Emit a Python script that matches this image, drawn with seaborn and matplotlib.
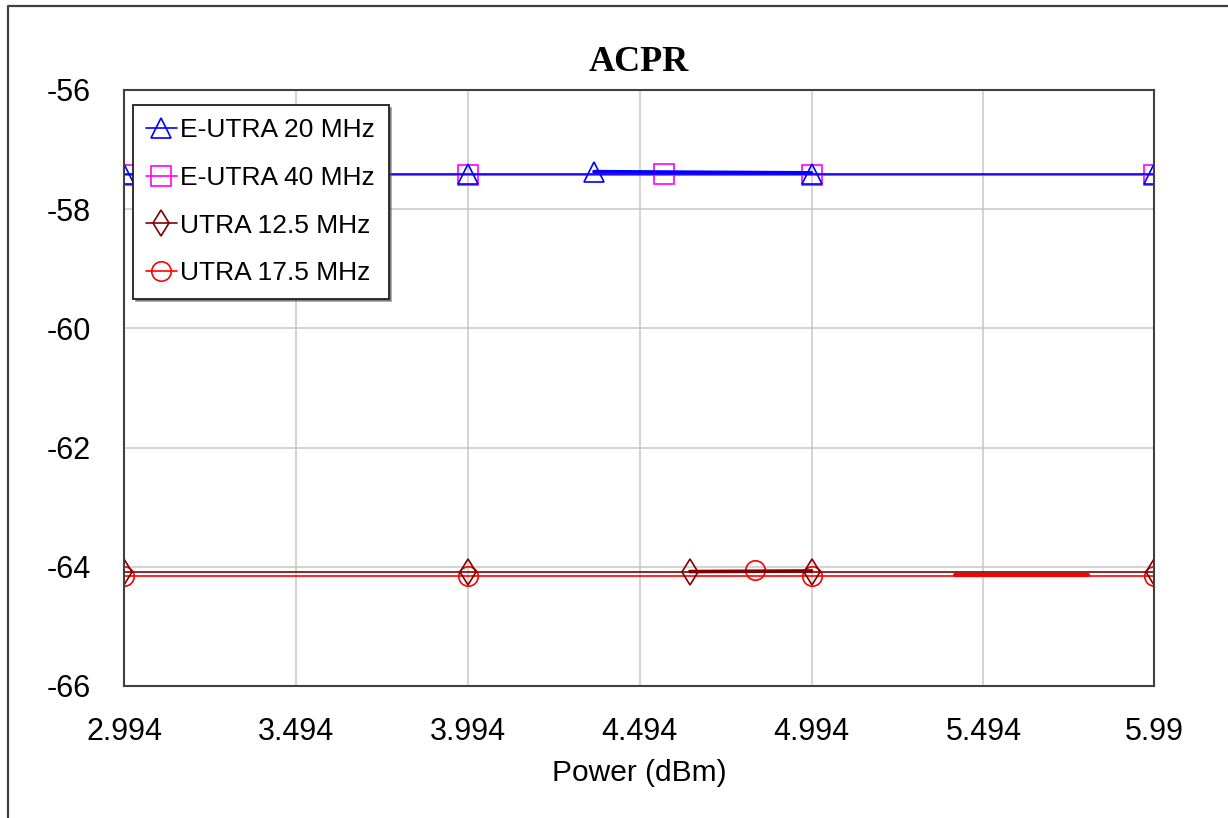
import matplotlib
matplotlib.use("Agg")
import matplotlib.pyplot as plt
import seaborn as sns
import pandas as pd
from matplotlib.lines import Line2D

# tick positions
x_ticks = [2.994, 3.494, 3.994, 4.494, 4.994, 5.494, 5.99]
y_ticks = [-66, -64, -62, -60, -58, -56]

series_names = ["E-UTRA 20 MHz", "E-UTRA 40 MHz", "UTRA 12.5 MHz", "UTRA 17.5 MHz"]

# main sweep traces
eutra20_x = [2.994, 3.994, 4.994, 5.99]
eutra20_y = [-57.41, -57.41, -57.41, -57.41]
eutra40_x = [2.994, 3.994, 4.994, 5.99]
eutra40_y = [-57.42, -57.42, -57.42, -57.42]
utra12_x = [2.994, 3.994, 4.994, 5.99]
utra12_y = [-64.09, -64.09, -64.09, -64.09]
utra17_x = [2.994, 3.994, 4.994, 5.99]
utra17_y = [-64.15, -64.15, -64.15, -64.15]

# short overlapping traces (the thicker bits)
eutra20_seg_x = [4.361, 4.994]
eutra20_seg_y = [-57.37, -57.39]
eutra40_seg_x = [4.565]
eutra40_seg_y = [-57.41]
utra12_seg_x = [4.640, 4.994]
utra12_seg_y = [-64.08, -64.07]
utra17_seg_x = [4.829]
utra17_seg_y = [-64.06]
utra17_seg2_x = [5.411, 5.798]
utra17_seg2_y = [-64.14, -64.14]

colors = ["#0000ff", "#ff00ff", "#800000", "#ff0000"]
markers = ["^", "s", "d", "o"]
msizes = [14, 15, 13, 14]

sns.set_style("white")
plt.rcParams["font.family"] = ["Liberation Sans", "DejaVu Sans"]
plt.rcParams["text.color"] = "black"
plt.rcParams["xtick.color"] = "black"
plt.rcParams["ytick.color"] = "black"
plt.rcParams["axes.labelcolor"] = "black"

fig = plt.figure(figsize=(12.28, 8.18), dpi=100)
ax = fig.add_axes([124 / 1228, 1 - 686 / 818, 1030 / 1228, 596 / 818])

mains = [(eutra20_x, eutra20_y), (eutra40_x, eutra40_y),
         (utra12_x, utra12_y), (utra17_x, utra17_y)]
segs = [(eutra20_seg_x, eutra20_seg_y), (eutra40_seg_x, eutra40_seg_y),
        (utra12_seg_x, utra12_seg_y), (utra17_seg_x, utra17_seg_y)]

seg2 = pd.DataFrame({"x": utra17_seg2_x, "y": utra17_seg2_y})

# draw last series first so E-UTRA 20 sits on top, like the original
for i in reversed(range(len(series_names))):
    df = pd.DataFrame({"x": mains[i][0], "y": mains[i][1]})
    sns.lineplot(data=df, x="x", y="y", ax=ax, color=colors[i], marker=markers[i],
                 markersize=msizes[i], markerfacecolor="none", markeredgecolor=colors[i],
                 markeredgewidth=1.2, linewidth=1.2, estimator=None, sort=False)
    sdf = pd.DataFrame({"x": segs[i][0], "y": segs[i][1]})
    sns.lineplot(data=sdf, x="x", y="y", ax=ax, color=colors[i], marker=markers[i],
                 markersize=msizes[i], markerfacecolor="none", markeredgecolor=colors[i],
                 markeredgewidth=1.2, linewidth=2.6, estimator=None, sort=False,
                 markevery=[0])
    if i == 3:
        sns.lineplot(data=seg2, x="x", y="y", ax=ax, color=colors[3], linewidth=3.0,
                     estimator=None, sort=False)

ax.set_xlim(2.994, 5.99)
ax.set_ylim(-66, -56)
ax.set_xticks(x_ticks)
ax.set_xticklabels([str(t) for t in x_ticks])
ax.set_yticks(y_ticks)
ax.set_yticklabels([str(t) for t in y_ticks])
ax.tick_params(axis="both", length=0, labelsize=22)
ax.tick_params(axis="x", pad=22)
ax.tick_params(axis="y", pad=24)
ax.grid(True, color="#c8c8c8", linewidth=1.1)
for sp in ax.spines.values():
    sp.set_color("#404040")
    sp.set_linewidth(1.5)

ax.set_xlabel("Power (dBm)", fontsize=21.5, labelpad=9)
ax.set_ylabel("")
ax.set_title("ACPR", fontsize=26, fontweight="bold", family="Liberation Serif", pad=14)

handles = [Line2D([], [], color=colors[i], marker=markers[i], markersize=msizes[i],
                  markerfacecolor="none", markeredgecolor=colors[i], markeredgewidth=1.2,
                  linewidth=1.2) for i in range(4)]
leg = ax.legend(handles, series_names, loc="upper left",
                bbox_to_anchor=(9 / 1030, 1 - 15 / 596), borderaxespad=0,
                fontsize=19, frameon=True, fancybox=False, shadow=True,
                handlelength=1.15, handletextpad=0.15, labelspacing=0.9,
                borderpad=0.5, framealpha=1)
leg.get_frame().set_edgecolor("#202020")
leg.get_frame().set_linewidth(1.3)

# outer frame of the picture
fig.add_artist(Line2D([8 / 1228, 8 / 1228, 1.0], [0.0, 1 - 6 / 818, 1 - 6 / 818],
                      transform=fig.transFigure, color="#404040", linewidth=1.6))

fig.savefig("out.png", dpi=100)
